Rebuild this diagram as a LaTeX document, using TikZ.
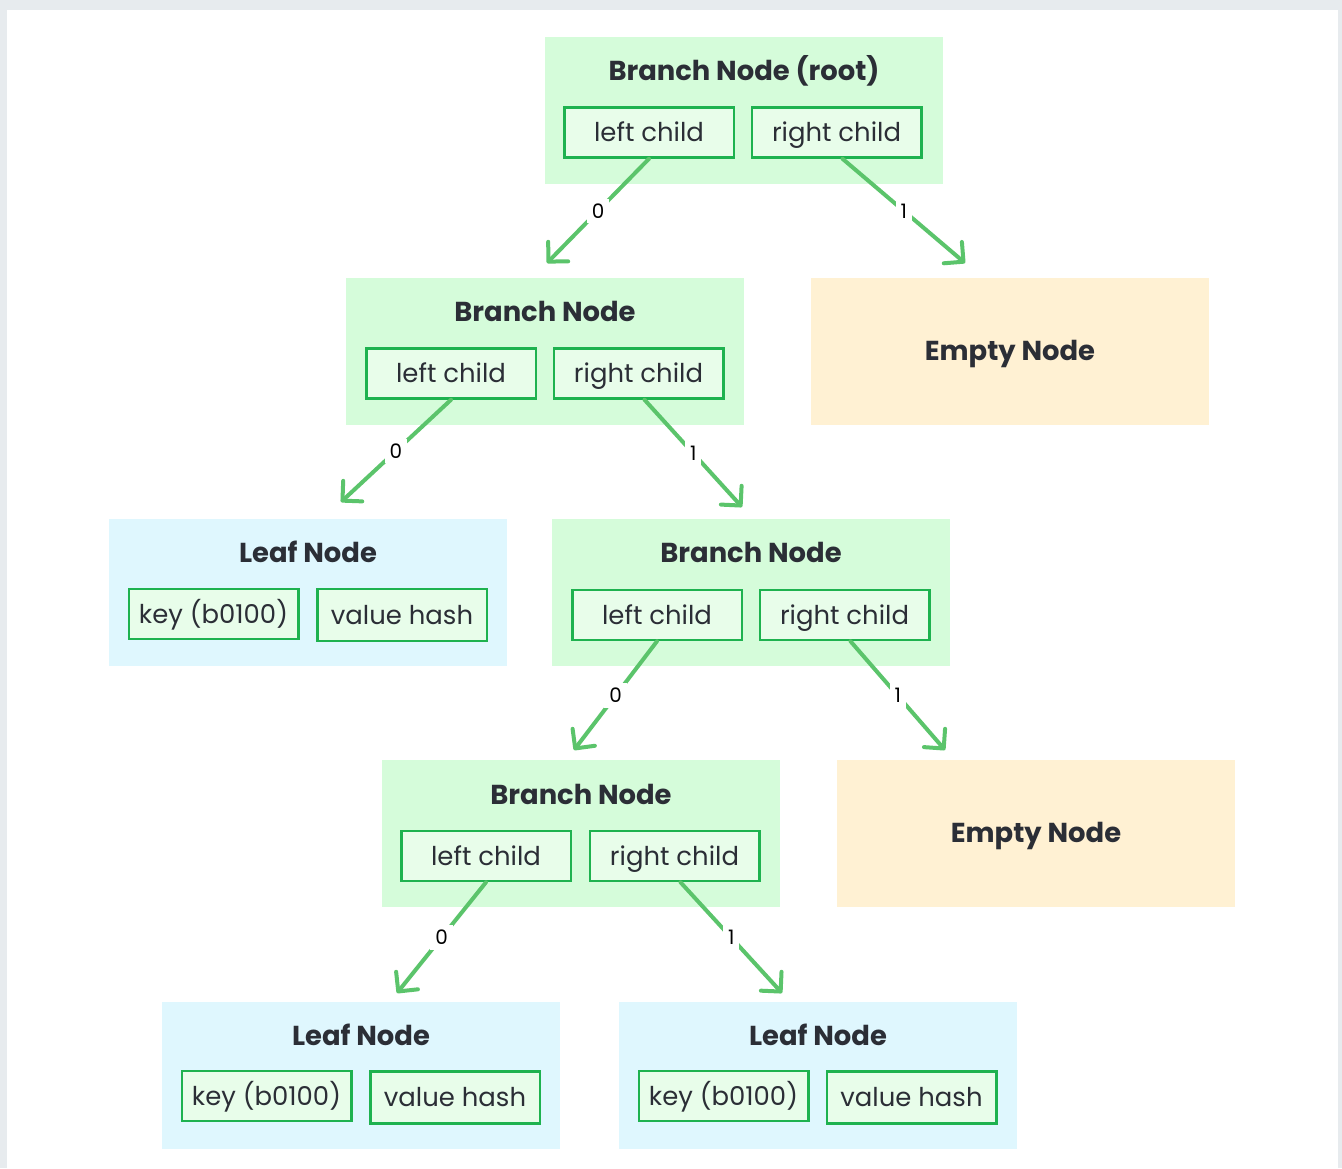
\documentclass[tikz,border=0pt]{standalone}
\usepackage{fontspec}
\setmainfont{Poppins}
\usetikzlibrary{arrows.meta}

\definecolor{pagebg}{HTML}{E7EBEE}
\definecolor{branchfill}{HTML}{D5FCDA}
\definecolor{slotfill}{HTML}{E8FDEA}
\definecolor{slotline}{HTML}{1EB24F}
\definecolor{leaffill}{HTML}{DFF7FE}
\definecolor{emptyfill}{HTML}{FFF1D3}
\definecolor{edgecol}{HTML}{5BC46B}
\definecolor{ink}{HTML}{2B2E36}

\tikzset{
  panel/.style={rectangle, draw=none, inner sep=0pt,
    minimum width=398bp, minimum height=147bp},
  branch/.style={panel, fill=branchfill},
  leaf/.style={panel, fill=leaffill},
  emptynode/.style={panel, fill=emptyfill, text=ink,
    text height=23bp, text depth=5bp,
    font=\fontsize{27.5}{32}\selectfont\bfseries},
  title/.style={inner sep=0pt, text=ink, text height=26bp, text depth=5bp,
    font=\fontsize{27.5}{32}\selectfont\bfseries},
  slot/.style={rectangle, draw=slotline, fill=slotfill, line width=2.5bp,
    inner sep=0pt, minimum width=169.5bp, minimum height=50bp, text=ink,
    text height=23bp, text depth=5bp,
    font=\fontsize{26}{30}\selectfont},
  edgearrow/.style={draw=edgecol, line width=4bp, line cap=round,
    -{Straight Barb[length=14bp,width=28bp,line cap=round,line join=round]}},
  bit/.style={fill=white, inner sep=5bp, text=black,
    font=\fontsize{20}{24}\selectfont}
}

\begin{document}
\begin{tikzpicture}[x=1bp,y=-1bp]
  % page frame
  \useasboundingbox (0,0) rectangle (1342,1168);
  \fill[pagebg] (0,0) rectangle (1342,1168);
  \fill[white] (7,10) rectangle (1338,1168);

  % ---- root branch
  \node[branch] (root) at (744,110) {};
  \node[title] (roott) at (744,70) {Branch Node (root)};
  \node[slot] (rootL) at (649,132.5) {left child};
  \node[slot] (rootR) at (836.5,132.5) {right child};

  % ---- second level
  \node[branch] (b2) at (545,351.5) {};
  \node[title] (b2t) at (545,311) {Branch Node};
  \node[slot] (b2L) at (451,373.5) {left child};
  \node[slot] (b2R) at (638.5,373.5) {right child};

  \node[emptynode] (e1) at (1010,351.5) {Empty Node};

  % ---- third level
  \node[leaf] (l1) at (308,592.5) {};
  \node[title] (l1t) at (308,552) {Leaf Node};
  \node[slot] (l1K) at (213.5,614) {key (b0100)};
  \node[slot, minimum height=52bp] (l1V) at (402,615) {value hash};

  \node[branch] (b3) at (751,592.5) {};
  \node[title] (b3t) at (751,552) {Branch Node};
  \node[slot] (b3L) at (657,615) {left child};
  \node[slot] (b3R) at (844.5,615) {right child};

  % ---- fourth level
  \node[branch] (b4) at (581,833.5) {};
  \node[title] (b4t) at (581,794) {Branch Node};
  \node[slot] (b4L) at (486,856) {left child};
  \node[slot] (b4R) at (674.5,856) {right child};

  \node[emptynode] (e2) at (1036,833.5) {Empty Node};

  % ---- fifth level
  \node[leaf] (l2) at (361,1075.5) {};
  \node[title] (l2t) at (361,1035) {Leaf Node};
  \node[slot] (l2K) at (266.5,1096) {key (b0100)};
  \node[slot, minimum height=52bp] (l2V) at (455,1097.5) {value hash};

  \node[leaf] (l3) at (818,1075.5) {};
  \node[title] (l3t) at (818,1035) {Leaf Node};
  \node[slot] (l3K) at (723.5,1096) {key (b0100)};
  \node[slot, minimum height=52bp] (l3V) at (911.5,1097.5) {value hash};

  % ---- arrow end points
  \coordinate (t1) at (547,263);
  \coordinate (t2) at (965,263);
  \coordinate (t3) at (341,502);
  \coordinate (t4) at (742,507);
  \coordinate (t5) at (574,750);
  \coordinate (t6) at (945,750);
  \coordinate (t7) at (397,993);
  \coordinate (t8) at (782,993);

  % ---- edges with bit labels
  \draw[edgearrow] (rootL.south) -- node[bit] {0} (t1);
  \draw[edgearrow] ([xshift=6bp]rootR.south) -- node[bit] {1} (t2);
  \draw[edgearrow] (b2L.south) -- node[bit] {0} (t3);
  \draw[edgearrow] ([xshift=6bp]b2R.south) -- node[bit] {1} (t4);
  \draw[edgearrow] (b3L.south) -- node[bit] {0} (t5);
  \draw[edgearrow] ([xshift=6bp]b3R.south) -- node[bit] {1} (t6);
  \draw[edgearrow] (b4L.south) -- node[bit] {0} (t7);
  \draw[edgearrow] ([xshift=6bp]b4R.south) -- node[bit] {1} (t8);
\end{tikzpicture}
\end{document}
